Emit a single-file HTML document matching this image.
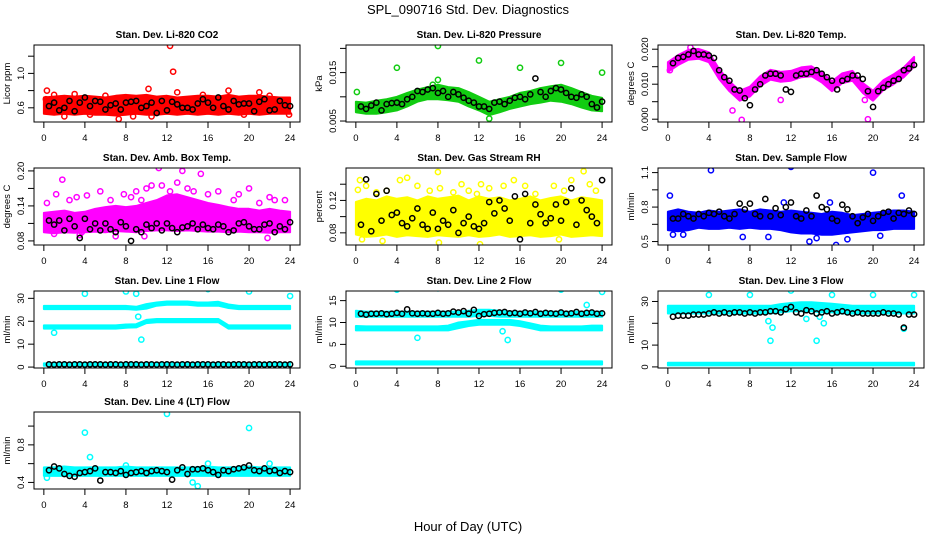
<!DOCTYPE html>
<html><head><meta charset="utf-8">
<style>
html,body{margin:0;padding:0;background:#fff;}
svg{display:block;font-family:"Liberation Sans",sans-serif;}
</style></head>
<body>
<svg id="chart" width="936" height="540" viewBox="0 0 936 540" xmlns="http://www.w3.org/2000/svg">
<text x="468" y="14" font-size="13" text-anchor="middle">SPL_090716  Std. Dev. Diagnostics</text>
<text x="468" y="531" font-size="13" text-anchor="middle">Hour of Day (UTC)</text>
</svg>
<script>
const H25=[0,1,2,3,4,5,6,7,8,9,10,11,12,13,14,15,16,17,18,19,20,21,22,23,24];
const blackHours=[0.5,1,1.5,2,2.5,3,3.5,4,4.5,5,5.5,6,6.5,7,7.5,8,8.5,9,9.5,10,10.5,11,11.5,12,12.5,13,13.5,14,14.5,15,15.5,16,16.5,17,17.5,18,18.5,19,19.5,20,20.5,21,21.5,22,22.5,23,23.5,24];
const xTicks=[0,4,8,12,16,20,24];

// P1 CO2
const p1Lo=[0.53,0.52,0.53,0.52,0.53,0.52,0.52,0.51,0.52,0.53,0.52,0.52,0.53,0.52,0.53,0.52,0.53,0.52,0.53,0.52,0.53,0.52,0.53,0.53,0.53];
const p1Hi=[0.72,0.73,0.74,0.73,0.74,0.73,0.72,0.74,0.75,0.74,0.75,0.73,0.74,0.72,0.73,0.74,0.74,0.73,0.75,0.73,0.74,0.74,0.73,0.72,0.72];
const p1Px=[0.2,0.3,1,2,3,4.5,6,7.3,8.7,10.2,10.5,12.3,12.6,13,15.5,18,19.5,21,22,23.9];
const p1Py=[0.70,0.80,0.75,0.50,0.76,0.52,0.74,0.47,0.50,0.82,0.50,1.32,1.02,0.78,0.75,0.80,0.52,0.78,0.74,0.52];
const p1Black=[0.62,0.66,0.57,0.60,0.68,0.56,0.66,0.72,0.62,0.68,0.67,0.58,0.63,0.65,0.58,0.66,0.67,0.68,0.60,0.62,0.66,0.54,0.68,0.57,0.67,0.64,0.60,0.60,0.58,0.65,0.70,0.66,0.60,0.72,0.62,0.58,0.68,0.64,0.65,0.65,0.56,0.67,0.70,0.57,0.58,0.68,0.63,0.62];
// P2 Pressure
const p2Lo=[.0068,.0065,.0065,.0068,.0072,.0080,.0090,.0095,.0095,.0093,.0090,.0080,.0072,.0062,.0068,.0075,.0080,.0085,.0088,.0092,.0090,.0085,.0078,.0072,.0070];
const p2Hi=[.0090,.0088,.0092,.0095,.0100,.0108,.0115,.0120,.0125,.0120,.0118,.0110,.0100,.0090,.0095,.0100,.0108,.0112,.0118,.0122,.0125,.0118,.0110,.0102,.0098];
const p2Px=[0.1,4,8,8,12,16,20,24,13,7.5];
const p2Py=[0.0110,0.0160,0.0205,0.0135,0.0175,0.0160,0.0170,0.0150,0.0055,0.0125];
const p2Black=[.0080,.0075,.0082,.0088,.0072,.0085,.0087,.0088,.0085,.0095,.0100,.0112,.0110,.0115,.0118,.0108,.0112,.0100,.0110,.0105,.0098,.0092,.0088,.0080,.0080,.0075,.0088,.0090,.0085,.0092,.0098,.0100,.0095,.0105,.0138,.0110,.0100,.0112,.0118,.0115,.0108,.0100,.0098,.0105,.0100,.0085,.0078,.0090];
// P3 Temp
const p3Lo=[0.0135,0.0155,0.0170,0.0173,0.0163,0.0115,0.0080,0.0053,0.0065,0.0095,0.0113,0.0107,0.0110,0.0120,0.0123,0.0105,0.0080,0.0103,0.0110,0.0075,0.0053,0.0083,0.0100,0.0120,0.0150];
const p3Hi=[0.0163,0.0183,0.0198,0.0201,0.0191,0.0143,0.0108,0.0081,0.0093,0.0123,0.0141,0.0135,0.0138,0.0148,0.0151,0.0133,0.0108,0.0131,0.0138,0.0103,0.0081,0.0111,0.0128,0.0148,0.0178];
const p3Px=[6.3,7.2,11,19.5,19.2,0.2,2.2];
const p3Py=[0.0025,-0.0002,0.0055,0,0.0055,0.014,0.0205];
const p3Black=[0.016,0.0175,0.0178,0.0185,0.0195,0.0185,0.0185,0.0182,0.0175,0.0140,0.0120,0.0110,0.0085,0.0082,0.0060,0.0040,0.0085,0.0100,0.0125,0.0130,0.0130,0.0125,0.0085,0.0078,0.0125,0.0130,0.0130,0.0135,0.0140,0.0130,0.0120,0.0110,0.0085,0.0110,0.0115,0.0125,0.0125,0.0115,0.0080,0.0035,0.0080,0.0090,0.0100,0.0110,0.0115,0.0140,0.0145,0.0155];
// P4 Amb box temp
const p4Lo=[0.095,0.093,0.095,0.094,0.095,0.096,0.095,0.097,0.096,0.095,0.097,0.098,0.098,0.097,0.098,0.097,0.096,0.096,0.095,0.096,0.095,0.095,0.094,0.095,0.095];
const p4Hi=[0.128,0.130,0.132,0.128,0.130,0.135,0.138,0.140,0.138,0.140,0.145,0.150,0.158,0.160,0.155,0.150,0.145,0.142,0.138,0.135,0.135,0.132,0.135,0.132,0.130];
const p4Px=[0.3,1.2,1.8,2.5,3.2,3.5,4.2,5.5,6.5,7,7.8,8.5,9,9.5,10,10.5,11.2,11.5,12.3,13,13.5,14,14.6,15.3,16,17,18.5,19,20,21,22,22.5,23.5,1,3.7,9.8,21.8];
const p4Py=[0.145,0.160,0.185,0.150,0.155,0.090,0.158,0.165,0.150,0.088,0.160,0.155,0.165,0.150,0.170,0.175,0.205,0.175,0.165,0.180,0.200,0.170,0.165,0.195,0.160,0.165,0.150,0.160,0.170,0.145,0.155,0.150,0.150,0.092,0.095,0.088,0.085];
const p4Black=[0.115,0.108,0.115,0.098,0.118,0.105,0.085,0.118,0.100,0.110,0.098,0.110,0.100,0.095,0.112,0.105,0.080,0.100,0.095,0.108,0.102,0.110,0.098,0.110,0.102,0.095,0.103,0.105,0.110,0.100,0.108,0.102,0.100,0.108,0.105,0.095,0.098,0.110,0.112,0.105,0.100,0.100,0.108,0.110,0.095,0.105,0.100,0.112];
// P5 RH
const p5Lo=[0.078,0.075,0.076,0.078,0.075,0.077,0.076,0.075,0.077,0.076,0.075,0.077,0.075,0.076,0.078,0.075,0.076,0.077,0.075,0.076,0.078,0.075,0.076,0.077,0.076];
const p5Hi=[0.118,0.122,0.120,0.125,0.122,0.124,0.120,0.125,0.122,0.124,0.126,0.120,0.125,0.122,0.124,0.120,0.122,0.125,0.120,0.123,0.125,0.120,0.124,0.122,0.120];
const p5Px=[0.2,0.4,1,2,3,4.3,5,6,7.2,8,8.2,9.5,10.3,11,11.8,12.2,13,14.4,15.4,16.5,17.5,19.3,20.3,21,22.2,22.8,23.4,0.6,2.6,8.1,12.1,19.8];
const p5Py=[0.133,0.145,0.138,0.130,0.132,0.145,0.148,0.138,0.132,0.155,0.135,0.130,0.140,0.132,0.128,0.140,0.135,0.138,0.145,0.138,0.128,0.138,0.132,0.145,0.156,0.140,0.132,0.072,0.070,0.068,0.066,0.072];
const p5Black=[0.090,0.146,0.082,0.128,0.095,0.132,0.102,0.105,0.092,0.088,0.098,0.110,0.090,0.085,0.105,0.085,0.095,0.090,0.108,0.080,0.092,0.100,0.088,0.085,0.092,0.118,0.104,0.120,0.110,0.095,0.125,0.072,0.128,0.092,0.115,0.103,0.092,0.098,0.115,0.095,0.118,0.135,0.090,0.120,0.108,0.100,0.092,0.145];
// P6 Sample flow
const p6Lo=[0.60,0.59,0.60,0.62,0.61,0.61,0.62,0.61,0.62,0.61,0.61,0.60,0.58,0.57,0.57,0.56,0.56,0.57,0.58,0.59,0.60,0.60,0.61,0.61,0.61];
const p6Hi=[0.76,0.78,0.76,0.75,0.77,0.76,0.77,0.78,0.76,0.78,0.77,0.76,0.77,0.76,0.75,0.74,0.76,0.75,0.73,0.74,0.75,0.76,0.77,0.77,0.76];
const p6Px=[0.2,4.2,12,20,22.8,0.5,1.5,9.8,13.8,14.5,16.4,17.5,20.7,15.8,11.3,7.3];
const p6Py=[0.90,1.12,1.15,1.10,0.90,0.56,0.56,0.54,0.50,0.53,0.47,0.52,0.55,0.84,0.84,0.54];
const p6Black=[0.70,0.70,0.74,0.72,0.70,0.74,0.72,0.75,0.74,0.76,0.72,0.70,0.74,0.83,0.78,0.83,0.74,0.72,0.87,0.72,0.79,0.73,0.80,0.84,0.72,0.70,0.77,0.72,0.90,0.80,0.78,0.70,0.68,0.82,0.78,0.72,0.66,0.71,0.74,0.68,0.72,0.75,0.76,0.70,0.75,0.74,0.77,0.74];
// P7 Line 1
const p7ALo=[25.3,25.3,25.3,25.3,25.3,25.3,25.3,25.3,25.3,25,25.5,26.8,27.2,27.2,27.2,26.8,26.8,26.8,25.8,25.3,25.3,25.3,25.3,25.3,25.3];
const p7AHi=[26.7,26.7,26.7,26.7,26.7,26.7,26.7,26.7,26.7,26.3,27.5,28.2,28.6,28.6,28.6,28.2,28.2,28.5,27.3,26.7,26.7,26.7,26.7,26.7,26.7];
const p7BLo=[16.8,16.8,16.8,16.8,16.8,16.8,16.8,16.8,17.2,17.3,19.2,19.6,19.6,19.6,19.6,19.6,19.6,19.6,16.8,16.8,16.8,16.8,16.8,16.8,16.8];
const p7BHi=[18.2,18.2,18.2,18.2,18.2,18.2,18.2,18.2,18.6,18.7,20.6,21,21,21,21,21,21,21,18.2,18.2,18.2,18.2,18.2,18.2,18.2];
const p7CLo=[0.6,0.6,0.6,0.6,0.6,0.6,0.6,0.6,0.6,0.6,0.6,0.6,0.6,0.6,0.6,0.6,0.6,0.6,0.6,0.6,0.6,0.6,0.6,0.6,0.6];
const p7CHi=[1.6,1.6,1.6,1.6,1.6,1.6,1.6,1.6,1.6,1.6,1.6,1.6,1.6,1.6,1.6,1.6,1.6,1.6,1.6,1.6,1.6,1.6,1.6,1.6,1.6];
const p7Px=[4,8,9,9.5,12,16,20,24,9.2,1];
const p7Py=[32,33,32,12,35,34,33,31,22,15];
const p7Black=[1.2,1.1,1.2,1.2,1.1,1.2,1.2,1.1,1.2,1.2,1.2,1.1,1.2,1.2,1.1,1.2,1.2,1.2,1.1,1.2,1.2,1.1,1.2,1.2,1.2,1.1,1.2,1.2,1.1,1.2,1.2,1.2,1.1,1.2,1.2,1.1,1.2,1.2,1.2,1.1,1.2,1.2,1.1,1.2,1.2,1.2,1.1,1.2];
// P8 Line 2
const p8ALo=[11.3,11.3,11.3,11.3,11.3,11.3,11.3,11.3,11.3,11.3,11.3,11.3,11.5,11.5,11.3,11.3,11.3,11.3,11.3,11.3,11.3,11.3,11.3,11.3,11.3];
const p8AHi=[12.7,12.5,12.5,12.5,12.5,12.5,12.5,12.5,12.5,12.5,12.5,12.7,12.9,12.9,12.7,12.5,12.5,12.5,12.5,12.5,12.5,12.5,12.5,12.5,12.5];
const p8BLo=[8.2,8.2,8.2,8.2,8.2,8.2,8.2,8.2,8.2,8.2,8.7,9.2,9.5,9.5,9.5,9.5,9.2,8.7,8.2,8.2,8.2,8.2,8.2,8.2,8.2];
const p8BHi=[9.2,9.1,9.1,9.1,9.1,9.1,9.1,9.1,9.1,9.3,10,10.3,10.6,10.6,10.6,10.6,10.3,9.8,9.3,9.1,9.1,9.1,9.1,9.3,9.3];
const p8CLo=[0.4,0.4,0.4,0.4,0.4,0.4,0.4,0.4,0.4,0.4,0.4,0.4,0.4,0.4,0.4,0.4,0.4,0.4,0.4,0.4,0.4,0.4,0.4,0.4,0.4];
const p8CHi=[1.1,1.1,1.1,1.1,1.1,1.1,1.1,1.1,1.1,1.1,1.1,1.1,1.1,1.1,1.1,1.1,1.1,1.1,1.1,1.1,1.1,1.1,1.1,1.1,1.1];
const p8Px=[4,8,12,16,20,24,6,14.8,14.3,22.5];
const p8Py=[17.5,17.8,18.8,18.2,17.5,17,6.5,6,8,14];
const p8Black=[12,11.8,12,12,12.1,11.9,12,12.2,12,13,12.1,12,12.1,12,12,12.2,12,12.1,12.5,12.3,12.6,12,12.9,11.5,11.9,12,12.2,12.3,12.4,12.1,12.2,12,12.3,12.1,12.4,12,12.2,12.1,12,12.3,12,12.1,12.4,12,12.2,12.3,12,12.1];
// P9 Line 3
const p9ALo=[24.5,24.5,24.5,24.5,24.5,24.5,24.5,24.5,24.5,24.5,24.5,25,25.5,25.5,25.5,25,25,24.5,24.5,24.5,24.5,24.5,24.5,24.5,24.5];
const p9AHi=[28,28,28,28,28,28,28,28,28,28,28,28.8,29.3,29.6,29.6,29.3,29,28.5,28,28,28,28,28,28,28];
const p9CLo=[0.7,0.7,0.7,0.7,0.7,0.7,0.7,0.7,0.7,0.7,0.7,0.7,0.7,0.7,0.7,0.7,0.7,0.7,0.7,0.7,0.7,0.7,0.7,0.7,0.7];
const p9CHi=[1.9,1.9,1.9,1.9,1.9,1.9,1.9,1.9,1.9,1.9,1.9,1.9,1.9,1.9,1.9,1.9,1.9,1.9,1.9,1.9,1.9,1.9,1.9,1.9,1.9];
const p9Px=[4,8,9.5,10,12,16,20,24,14.5,9.8,13.5,14.8,23,10.2,15.2];
const p9Py=[33,33,26,12,35,33,33,33,12,21,22,23,17.5,18,20];
const p9Black=[23,23.5,23.5,23.5,24,24,24,24.5,25,24.5,25,24.5,25,25,24.5,25,24.5,25,25,25.5,25.5,25,26.5,27.5,25,24.5,26,25.5,24.5,25,25.5,24.5,25,25.5,25,24.5,25,24.5,24.5,24.5,24.5,25,24.5,24.5,24,18,24,24];
// P10 Line 4
const p10Lo=[0.47,0.47,0.47,0.47,0.47,0.47,0.47,0.47,0.47,0.47,0.47,0.47,0.47,0.47,0.47,0.47,0.47,0.47,0.47,0.47,0.47,0.47,0.47,0.47,0.47];
const p10Hi=[0.56,0.56,0.57,0.56,0.56,0.56,0.56,0.56,0.57,0.56,0.56,0.56,0.56,0.56,0.56,0.56,0.57,0.56,0.56,0.56,0.57,0.56,0.56,0.56,0.56];
const p10Px=[4,4.5,12,20,0.3,8,16,22,14.5,15];
const p10Py=[0.93,0.67,1.13,0.98,0.45,0.58,0.60,0.60,0.40,0.36];
const p10Black=[0.53,0.57,0.55,0.49,0.47,0.46,0.50,0.51,0.52,0.55,0.42,0.51,0.51,0.50,0.52,0.48,0.50,0.51,0.52,0.50,0.52,0.53,0.52,0.51,0.43,0.53,0.56,0.49,0.54,0.54,0.55,0.53,0.51,0.48,0.53,0.52,0.54,0.55,0.56,0.58,0.53,0.52,0.55,0.52,0.53,0.50,0.52,0.51];

const NS='http://www.w3.org/2000/svg';
const svg=document.getElementById('chart');
function mk(tag,attrs,parent){const e=document.createElementNS(NS,tag);for(const k in attrs)e.setAttribute(k,attrs[k]);(parent||svg).appendChild(e);return e;}

const colX=[34,346,658], rowY=[45,168,291,412], BW=266, BH=77;
const panels=[
 {id:'co2',title:'Stan. Dev. Li-820 CO2',ylab:'Licor ppm',c:0,r:0,dom:[0.435,1.33],ticks:[0.6,0.8,1.0,1.2],tl:['0.6','','1.0',''],color:'#ff0000',bands:[[p1Lo,p1Hi]],px:p1Px,py:p1Py,black:p1Black},
 {id:'pressure',title:'Stan. Dev. Li-820 Pressure',ylab:'kPa',c:1,r:0,dom:[0.0048,0.0207],ticks:[0.005,0.010,0.015,0.020],tl:['0.005','','0.015',''],color:'#11cc11',bands:[[p2Lo,p2Hi]],px:p2Px,py:p2Py,black:p2Black},
 {id:'li820-temp',title:'Stan. Dev. Li-820 Temp.',ylab:'degrees C',c:2,r:0,dom:[-0.0008,0.0212],ticks:[0,0.005,0.010,0.015,0.020],tl:['0.000','','0.010','','0.020'],color:'#ff00ff',bands:[[p3Lo,p3Hi]],px:p3Px,py:p3Py,black:p3Black},
 {id:'amb-box-temp',title:'Stan. Dev. Amb. Box Temp.',ylab:'degrees C',c:0,r:1,dom:[0.073,0.205],ticks:[0.08,0.11,0.14,0.17,0.20],tl:['0.08','','0.14','','0.20'],color:'#ff00ff',bands:[[p4Lo,p4Hi]],px:p4Px,py:p4Py,black:p4Black},
 {id:'gas-rh',title:'Stan. Dev. Gas Stream RH',ylab:'percent',c:1,r:1,dom:[0.065,0.16],ticks:[0.08,0.10,0.12,0.14],tl:['0.08','','0.12',''],color:'#ffff00',bands:[[p5Lo,p5Hi]],px:p5Px,py:p5Py,black:p5Black},
 {id:'sample-flow',title:'Stan. Dev. Sample Flow',ylab:'ml/min',c:2,r:1,dom:[0.47,1.14],ticks:[0.5,0.65,0.8,0.95,1.1],tl:['0.5','','0.8','','1.1'],color:'#0000ff',bands:[[p6Lo,p6Hi]],px:p6Px,py:p6Py,black:p6Black},
 {id:'line1-flow',title:'Stan. Dev. Line 1 Flow',ylab:'ml/min',c:0,r:2,dom:[-0.4,33.2],ticks:[0,10,20,30],tl:['0','10','20','30'],color:'#00ffff',bands:[[p7ALo,p7AHi],[p7BLo,p7BHi],[p7CLo,p7CHi]],px:p7Px,py:p7Py,black:p7Black},
 {id:'line2-flow',title:'Stan. Dev. Line 2 Flow',ylab:'ml/min',c:1,r:2,dom:[-0.4,17.2],ticks:[0,5,10,15],tl:['0','5','10','15'],color:'#00ffff',bands:[[p8ALo,p8AHi],[p8BLo,p8BHi],[p8CLo,p8CHi]],px:p8Px,py:p8Py,black:p8Black},
 {id:'line3-flow',title:'Stan. Dev. Line 3 Flow',ylab:'ml/min',c:2,r:2,dom:[-0.5,34.8],ticks:[0,10,20,30],tl:['0','10','','30'],color:'#00ffff',bands:[[p9ALo,p9AHi],[p9CLo,p9CHi]],px:p9Px,py:p9Py,black:p9Black},
 {id:'line4-flow',title:'Stan. Dev. Line 4 (LT) Flow',ylab:'ml/min',c:0,r:3,dom:[0.33,1.15],ticks:[0.4,0.6,0.8,1.0],tl:['0.4','','0.8',''],color:'#00ffff',bands:[[p10Lo,p10Hi]],px:p10Px,py:p10Py,black:p10Black}
];

panels.forEach(p=>{
  const L=colX[p.c],T=rowY[p.r];
  const xs=h=>L+9.85+h*10.26;
  const ys=v=>T+BH-(v-p.dom[0])/(p.dom[1]-p.dom[0])*BH;
  const g=mk('g',{});
  
  
  const t=mk('text',{x:L+BW/2,y:T-7,'font-size':10,'font-weight':'bold','text-anchor':'middle'},g);
  
  
  t.textContent=p.title;
  const clip=mk('clipPath',{id:'clip-'+p.id},g);
  mk('rect',{x:L,y:T,width:BW,height:BH},clip);
  const plot=mk('g',{'clip-path':'url(#clip-'+p.id+')'},g);
  p.bands.forEach((b,bi)=>{
    let d='';
    H25.forEach((h,i)=>{d+=(i?'L':'M')+xs(h).toFixed(1)+','+ys(b[1][i]).toFixed(1);});
    for(let i=H25.length-1;i>=0;i--)d+='L'+xs(H25[i]).toFixed(1)+','+ys(b[0][i]).toFixed(1);
    const band=mk('path',{d:d+'Z',fill:p.color,stroke:p.color,'stroke-width':2,'stroke-linejoin':'round'},plot);
    
    
  });
  p.px.forEach((h,i)=>{
    const c=mk('circle',{cx:xs(h),cy:ys(p.py[i]),r:2.6,fill:'none',stroke:p.color,'stroke-width':1.5},plot);
    
    
  });
  p.black.forEach((v,i)=>{
    const c=mk('circle',{cx:xs(blackHours[i]),cy:ys(v),r:2.6,fill:'none',stroke:'#000','stroke-width':1.5},plot);
    
    
  });
  const box=mk('rect',{x:L,y:T,width:BW,height:BH,fill:'none',stroke:'#000','stroke-width':1},g);
  
  
  xTicks.forEach(h=>{
    mk('line',{x1:xs(h),x2:xs(h),y1:T+BH,y2:T+BH+6,stroke:'#000'},g);
    const tx=mk('text',{x:xs(h),y:T+BH+19,'font-size':9.5,'text-anchor':'middle'},g);
    
    
    tx.textContent=h;
  });
  p.ticks.forEach((v,i)=>{
    const y=ys(v);
    mk('line',{x1:L-6,x2:L,y1:y,y2:y,stroke:'#000'},g);
    if(p.tl[i]){
      const ty=mk('text',{x:L-10,y:y,'font-size':9.5,'text-anchor':'middle',transform:'rotate(-90 '+(L-10)+' '+y+')'},g);
      
      
      ty.textContent=p.tl[i];
    }
  });
  const yl=mk('text',{x:L-24,y:T+BH/2,'font-size':9.5,'text-anchor':'middle',transform:'rotate(-90 '+(L-24)+' '+(T+BH/2)+')'},g);
  
  
  yl.textContent=p.ylab;
});
</script>
</body></html>
